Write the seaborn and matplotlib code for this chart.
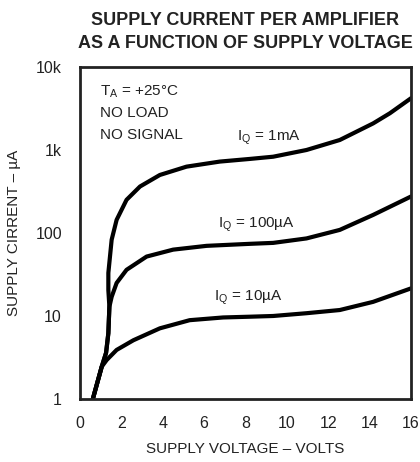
import pandas as pd
import matplotlib
matplotlib.use("Agg")
import matplotlib.pyplot as plt
import seaborn as sns

# curve values: supply voltage (V) vs supply current (uA)
v_1ma = [0.62, 1.05, 1.26, 1.37, 1.42, 1.37, 1.37, 1.53, 1.77, 2.25, 2.9, 3.86, 5.15, 6.76,
         8.2, 9.34, 10.95, 12.56, 14.17, 14.98, 16.0]
i_1ma = [1.0, 2.45, 3.6, 6.2, 12.9, 20.5, 33, 83, 144, 251, 363, 500, 630, 725,
         780, 830, 1000, 1320, 2090, 2770, 4200]

v_100ua = [0.62, 1.05, 1.26, 1.37, 1.42, 1.53, 1.77, 2.25, 3.22, 4.5, 6.12, 8.2, 9.34,
           10.95, 12.56, 14.17, 16.0]
i_100ua = [1.0, 2.45, 3.6, 6.2, 12.9, 17, 25, 36, 52, 63, 70, 74, 76,
           86, 109, 165, 275]

v_10ua = [0.62, 1.05, 1.29, 1.77, 2.58, 3.86, 5.3, 6.92, 8.2, 9.34, 10.95, 12.56, 14.17, 16.0]
i_10ua = [1.0, 2.45, 2.95, 3.9, 5.1, 7.1, 8.9, 9.6, 9.8, 10.0, 10.8, 11.8, 14.8, 21.5]

x_ticks = [0, 2, 4, 6, 8, 10, 12, 14, 16]
y_ticks = [1, 10, 100, 1000, 10000]
y_tick_labels = ["1", "10", "100", "1k", "10k"]

rows = []
for name, vs, cs in [("1mA", v_1ma, i_1ma), ("100uA", v_100ua, i_100ua), ("10uA", v_10ua, i_10ua)]:
    for k, (v, c) in enumerate(zip(vs, cs)):
        rows.append({"curve": name, "order": k, "volts": v, "current": c})
df = pd.DataFrame(rows)

sns.set_style("white")
plt.rcParams['font.family'] = ['Liberation Sans', 'DejaVu Sans']

fig = plt.figure(figsize=(4.2, 4.62), dpi=100)
ax = fig.add_axes([0.1905, 0.1364, 0.788, 0.7186])

for name in ["1mA", "100uA", "10uA"]:
    sub = df[df.curve == name]
    sns.lineplot(data=sub, x="volts", y="current", sort=False, color="black",
                 linewidth=3, ax=ax, estimator=None)
for ln in ax.lines:
    ln.set_solid_joinstyle("round")
    ln.set_solid_capstyle("round")

ax.set_yscale("log")
ax.set_xlim(0, 16)
ax.set_ylim(1, 10000)
ax.set_xticks(x_ticks)
ax.set_xticklabels([str(t) for t in x_ticks])
ax.set_yticks(y_ticks)
ax.set_yticklabels(y_tick_labels)
ax.minorticks_off()
ax.tick_params(axis="x", length=0, labelsize=11.5, pad=12, colors="#222222")
ax.tick_params(axis="y", length=0, labelsize=11.5, pad=13, colors="#222222")
for s in ax.spines.values():
    s.set_linewidth(2)
    s.set_color("#222222")

ax.set_xlabel("SUPPLY VOLTAGE – VOLTS", fontsize=11, color="#222222", labelpad=8)
ax.set_ylabel("SUPPLY CIRRENT – µA", fontsize=11, color="#222222", labelpad=10)
ax.set_title("SUPPLY CURRENT PER AMPLIFIER\nAS A FUNCTION OF SUPPLY VOLTAGE",
             fontsize=13, fontweight="bold", color="#222222", pad=14, linespacing=1.4)

txt = dict(fontsize=11, color="#222222", va="center")
ax.text(0.97, 5000, r"T$_\mathregular{A}$ = +25°C", **txt)
ax.text(0.97, 2800, "NO LOAD", **txt)
ax.text(0.97, 1510, "NO SIGNAL", **txt)
ax.text(7.6, 1390, r"I$_\mathregular{Q}$ = 1mA", **txt)
ax.text(6.67, 125, r"I$_\mathregular{Q}$ = 100µA", **txt)
ax.text(6.5, 16.5, r"I$_\mathregular{Q}$ = 10µA", **txt)

plt.savefig("out.png", dpi=100)
